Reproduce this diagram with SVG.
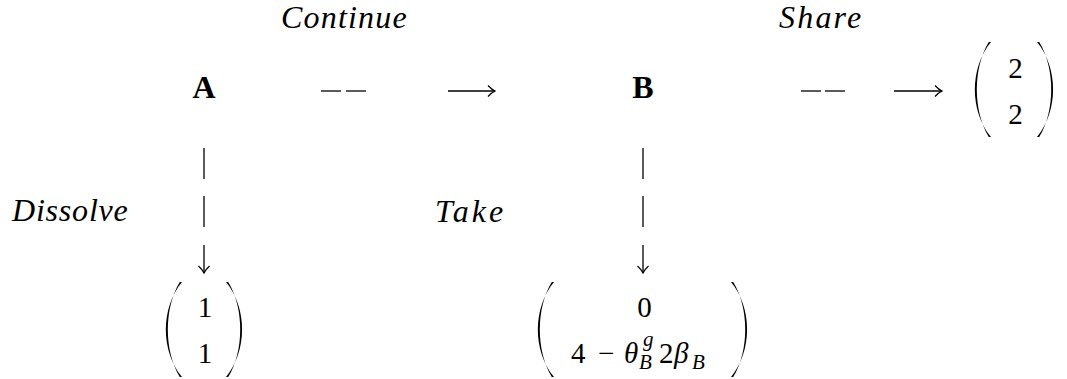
<svg xmlns="http://www.w3.org/2000/svg" width="1067" height="379" viewBox="0 0 1067 379" font-family="Liberation Serif, serif">
  <defs>
    <marker id="head" viewBox="-9 -7 10 14" refX="0" refY="0" markerWidth="10" markerHeight="14" markerUnits="userSpaceOnUse" orient="auto">
      <path d="M-7,-5.5 Q-3,-1.2 0,0 Q-3,1.2 -7,5.5" fill="none" stroke="#000" stroke-width="1.2"/>
    </marker>
    <path id="lparen" fill="#000" d="M16,0 C-5.5,26 -5.5,69 16,95 L13.8,95 C-2.2,69 -2.2,26 13.8,0 Z"/>
  </defs>

  <!-- connectors -->
  <g id="connectors" stroke="#000" stroke-width="1.3" fill="none">
    <g id="edge-A-B">
      <line x1="321" y1="91" x2="341" y2="91"/>
      <line x1="346" y1="91" x2="366" y2="91"/>
      <line x1="448" y1="91" x2="495" y2="91" marker-end="url(#head)"/>
    </g>
    <g id="edge-B-share">
      <line x1="801" y1="91" x2="821" y2="91"/>
      <line x1="825" y1="91" x2="845" y2="91"/>
      <line x1="894" y1="91" x2="942" y2="91" marker-end="url(#head)"/>
    </g>
    <g id="edge-A-dissolve">
      <line x1="204" y1="148" x2="204" y2="179"/>
      <line x1="204" y1="196" x2="204" y2="227"/>
      <line x1="204" y1="245" x2="204" y2="273" marker-end="url(#head)"/>
    </g>
    <g id="edge-B-take">
      <line x1="643" y1="148" x2="643" y2="179"/>
      <line x1="643" y1="196" x2="643" y2="227"/>
      <line x1="643" y1="245" x2="643" y2="273" marker-end="url(#head)"/>
    </g>
  </g>

  <!-- edge labels -->
  <g id="labels" fill="#000">
    <text style="font-family:'Liberation Serif',serif !important;font-style:italic;font-size:32px" x="281" y="28" letter-spacing="1.2">Continue</text>
    <text style="font-family:'Liberation Serif',serif !important;font-style:italic;font-size:32px" x="779" y="28" letter-spacing="2.2">Share</text>
    <text style="font-family:'Liberation Serif',serif !important;font-style:italic;font-size:32px" x="12" y="221" letter-spacing="0.8">Dissolve</text>
    <text style="font-family:'Liberation Serif',serif !important;font-style:italic;font-size:32px" x="435" y="222" letter-spacing="3">Take</text>
  </g>

  <!-- decision nodes -->
  <g fill="#000" text-anchor="middle">
    <g id="node-A">
      <text style="font-family:'Liberation Serif',serif !important;font-weight:bold;font-size:32px" x="204" y="98">A</text>
    </g>
    <g id="node-B">
      <text style="font-family:'Liberation Serif',serif !important;font-weight:bold;font-size:32px" x="643" y="98">B</text>
    </g>
  </g>

  <!-- payoff nodes -->
  <g fill="#000">
    <g id="node-payoff-share">
      <use href="#lparen" transform="translate(975,42)"/>
      <text style="font-family:'Liberation Serif',serif !important;font-size:29px" x="1015.5" y="78" text-anchor="middle">2</text>
      <text style="font-family:'Liberation Serif',serif !important;font-size:29px" x="1015.5" y="124" text-anchor="middle">2</text>
      <use href="#lparen" transform="translate(1053,42) scale(-1,1)"/>
    </g>

    <g id="node-payoff-dissolve">
      <use href="#lparen" transform="translate(166,282)"/>
      <text style="font-family:'Liberation Serif',serif !important;font-size:29px" x="205" y="317" text-anchor="middle">1</text>
      <text style="font-family:'Liberation Serif',serif !important;font-size:29px" x="205" y="363" text-anchor="middle">1</text>
      <use href="#lparen" transform="translate(242,282) scale(-1,1)"/>
    </g>

    <g id="node-payoff-take">
      <use href="#lparen" transform="translate(538,282)"/>
      <text style="font-family:'Liberation Serif',serif !important;font-size:29px" x="644.5" y="317" text-anchor="middle">0</text>
      <text style="font-family:'Liberation Serif',serif !important;font-size:29px" y="363"><tspan x="571">4</tspan><tspan x="598">−</tspan><tspan font-style="italic" x="624">θ</tspan><tspan font-style="italic" font-size="21" x="643" y="346">g</tspan><tspan font-style="italic" font-size="21" x="639" y="369">B</tspan><tspan x="659" y="363">2</tspan><tspan font-style="italic" x="674">β</tspan><tspan font-style="italic" font-size="21" x="692" y="369">B</tspan></text>
      <use href="#lparen" transform="translate(747,282) scale(-1,1)"/>
    </g>
  </g>
</svg>
